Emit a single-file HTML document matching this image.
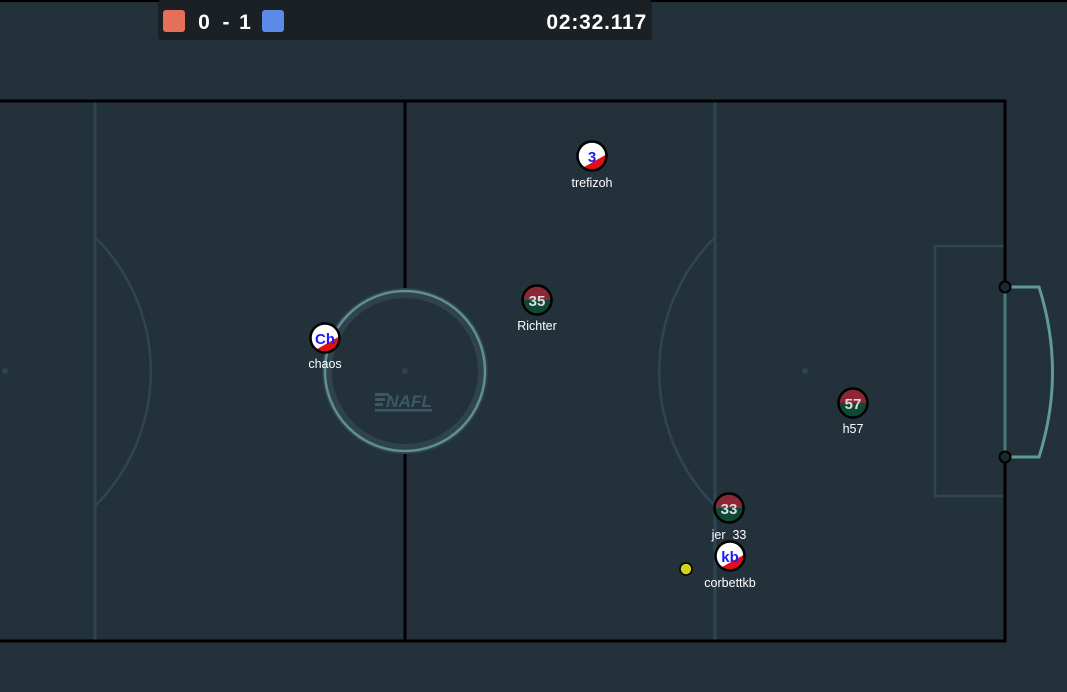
<!DOCTYPE html>
<html><head><meta charset="utf-8"><style>
html,body{margin:0;padding:0;background:#23313a;width:1067px;height:692px;overflow:hidden}
svg{display:block}
text{font-family:"Liberation Sans",Arial,sans-serif}
</style></head><body>
<svg width="1067" height="692" viewBox="0 0 1067 692">
<rect x="0" y="0" width="1067" height="692" fill="#23313a"/>
<g fill="none">
<line x1="95" y1="101" x2="95" y2="641" stroke="#2e4652" stroke-width="3"/>
<line x1="715" y1="101" x2="715" y2="641" stroke="#2e4652" stroke-width="3"/>
<path d="M95 237 A190 190 0 0 1 95 506" stroke="#2e4652" stroke-width="2.5"/>
<path d="M715 237 A190 190 0 0 0 715 506" stroke="#2e4652" stroke-width="2.5"/>
<rect x="935" y="246" width="70" height="250" stroke="#2e4652" stroke-width="2.5"/>
<circle cx="5" cy="371" r="3" fill="#2e4652" stroke="none"/>
<circle cx="805" cy="371" r="3" fill="#2e4652" stroke="none"/>
<line x1="-5" y1="101" x2="1006" y2="101" stroke="#000" stroke-width="3"/>
<line x1="-5" y1="641" x2="1006" y2="641" stroke="#000" stroke-width="3"/>
<line x1="1005" y1="100" x2="1005" y2="642" stroke="#000" stroke-width="3"/>
<line x1="405" y1="101" x2="405" y2="641" stroke="#000" stroke-width="3"/>
<circle cx="405" cy="371" r="78" fill="#23313a" stroke="#2f434d" stroke-width="10"/>
<circle cx="405" cy="371" r="80" stroke="#5f8f8f" stroke-width="2.5"/>
<circle cx="405" cy="371" r="3" fill="#2f434d" stroke="none"/>
<g fill="#3c5866" stroke="none">
<rect x="375" y="393" width="14" height="3"/><rect x="375" y="398" width="10" height="3"/><rect x="375" y="403" width="8" height="3"/>
<text x="386" y="407" font-size="17" font-style="italic" font-weight="bold" fill="#3c5866" textLength="46" lengthAdjust="spacingAndGlyphs">NAFL</text>
<rect x="375" y="409" width="57" height="2.5"/>
</g>
<line x1="1005" y1="287" x2="1005" y2="457" stroke="#4c7878" stroke-width="3"/>
<path d="M1005 287 L1039 287 Q1066 372 1039 457 L1005 457" stroke="#5f9a98" stroke-width="3"/>
<circle cx="1005" cy="287" r="5.5" fill="#1a2830" stroke="#000" stroke-width="2"/>
<circle cx="1005" cy="457" r="5.5" fill="#1a2830" stroke="#000" stroke-width="2"/>
</g>
<defs>
<clipPath id="c"><circle cx="0" cy="0" r="14"/></clipPath>
</defs>
<g transform="translate(592,156)">
<g clip-path="url(#c)"><rect x="-15" y="-15" width="30" height="30" fill="#fff"/><polygon points="15,-2 15,15 -15,15" fill="#e0101a"/></g>
<circle r="14.5" fill="none" stroke="#000" stroke-width="2.5"/>
<text y="6" text-anchor="middle" font-size="15" font-weight="bold" fill="#1a1aff">3</text>
<text y="31" text-anchor="middle" font-size="12.5" fill="#fff">trefizoh</text>
</g>
<g transform="translate(325,338)">
<g clip-path="url(#c)"><rect x="-15" y="-15" width="30" height="30" fill="#fff"/><polygon points="15,-2 15,15 -15,15" fill="#e0101a"/></g>
<circle r="14.5" fill="none" stroke="#000" stroke-width="2.5"/>
<text y="6" text-anchor="middle" font-size="15" font-weight="bold" fill="#1a1aff">Ch</text>
<text y="30" text-anchor="middle" font-size="12.5" fill="#fff">chaos</text>
</g>
<g transform="translate(730,556)">
<g clip-path="url(#c)"><rect x="-15" y="-15" width="30" height="30" fill="#fff"/><polygon points="15,-2 15,15 -15,15" fill="#e0101a"/></g>
<circle r="14.5" fill="none" stroke="#000" stroke-width="2.5"/>
<text y="6" text-anchor="middle" font-size="15" font-weight="bold" fill="#1a1aff">kb</text>
<text y="31" text-anchor="middle" font-size="12.5" fill="#fff">corbettkb</text>
</g>
<g transform="translate(537,300)">
<g clip-path="url(#c)"><rect x="-15" y="-15" width="30" height="15" fill="#8b2837"/><rect x="-15" y="0" width="30" height="15" fill="#0d4a36"/></g>
<circle r="14.5" fill="none" stroke="#000" stroke-width="2.5"/>
<text y="6" text-anchor="middle" font-size="15" font-weight="bold" fill="#dcdcdc">35</text>
<text y="30" text-anchor="middle" font-size="12.5" fill="#fff">Richter</text>
</g>
<g transform="translate(853,403)">
<g clip-path="url(#c)"><rect x="-15" y="-15" width="30" height="15" fill="#8b2837"/><rect x="-15" y="0" width="30" height="15" fill="#0d4a36"/></g>
<circle r="14.5" fill="none" stroke="#000" stroke-width="2.5"/>
<text y="6" text-anchor="middle" font-size="15" font-weight="bold" fill="#dcdcdc">57</text>
<text y="30" text-anchor="middle" font-size="12.5" fill="#fff">h57</text>
</g>
<g transform="translate(729,508)">
<g clip-path="url(#c)"><rect x="-15" y="-15" width="30" height="15" fill="#8b2837"/><rect x="-15" y="0" width="30" height="15" fill="#0d4a36"/></g>
<circle r="14.5" fill="none" stroke="#000" stroke-width="2.5"/>
<text y="6" text-anchor="middle" font-size="15" font-weight="bold" fill="#dcdcdc">33</text>
<text y="31" text-anchor="middle" font-size="12.5" fill="#fff" xml:space="preserve">jer  33</text>
</g>
<circle cx="686" cy="569" r="6" fill="#d4d21a" stroke="#000" stroke-width="1.5"/>
<g>
<rect x="0" y="0" width="1067" height="2" fill="#000"/>
<rect x="158" y="0" width="494" height="40" rx="3" fill="#1b2024"/>
<rect x="163" y="10" width="22" height="22" rx="3" fill="#e5705a"/>
<g font-size="21" font-weight="bold" fill="#fff" text-anchor="middle">
<text x="204" y="29">0</text><text x="226" y="29">-</text><text x="245" y="29">1</text>
</g>
<rect x="262" y="10" width="22" height="22" rx="3" fill="#5b8ae8"/>
<text x="647" y="29" text-anchor="end" font-size="21" font-weight="bold" fill="#fff" letter-spacing="0.8">02:32.117</text>
</g>
</svg>
</body></html>
